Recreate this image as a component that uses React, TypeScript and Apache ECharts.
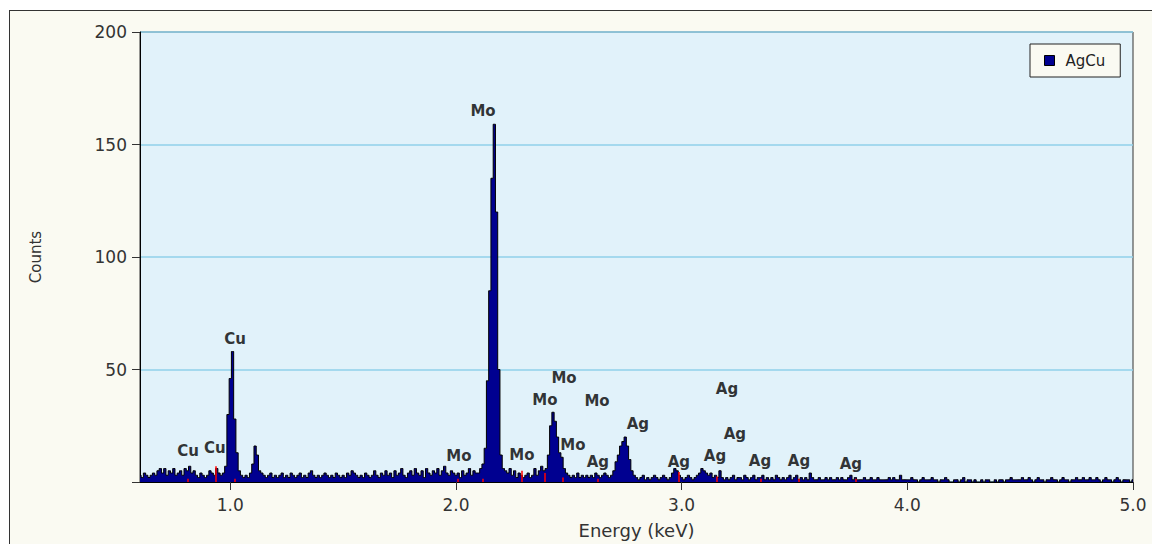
import React, { useEffect, useRef } from "react";
import * as echarts from "echarts";

// Spectrum channels: 10 eV each, starting at 0.60 keV
const START_KEV = 0.6;
const CHANNEL_KEV = 0.01;

const counts: number[] = [
  // 0.60
  3, 2, 4, 3, 2, 3, 4, 3, 5, 6,
  // 0.70
  4, 6, 3, 5, 4, 6, 3, 4, 5, 3,
  // 0.80
  6, 5, 7, 4, 5, 3, 2, 4, 3, 2,
  // 0.90
  3, 5, 4, 3, 6, 4, 3, 4, 7, 30,
  // 1.00
  46, 58, 28, 13, 5, 3, 2, 3, 2, 4,
  // 1.10
  8, 16, 12, 5, 4, 3, 2, 3, 4, 2,
  // 1.20
  3, 2, 3, 4, 2, 3, 2, 4, 3, 2,
  // 1.30
  3, 4, 2, 3, 2, 4, 5, 3, 2, 3,
  // 1.40
  2, 3, 4, 3, 2, 3, 2, 4, 3, 2,
  // 1.50
  3, 2, 4, 3, 5, 4, 3, 2, 3, 2,
  // 1.60
  4, 3, 2, 3, 5, 3, 2, 4, 3, 5,
  // 1.70
  3, 4, 2, 5, 3, 4, 6, 3, 2, 4,
  // 1.80
  5, 3, 6, 4, 3, 5, 2, 6, 4, 3,
  // 1.90
  5, 4, 6, 3, 5, 7, 4, 3, 5, 4,
  // 2.00
  3, 4, 2, 5, 3, 4, 6, 3, 5, 4,
  // 2.10
  4, 6, 8, 15, 45, 85, 135, 159, 120, 50,
  // 2.20
  12, 6, 5, 4, 6, 3, 5, 2, 4, 3,
  // 2.30
  2, 3, 4, 2, 3, 6, 3, 5, 7, 5,
  // 2.40
  6, 12, 25, 31, 27, 20, 13, 11, 6, 4,
  // 2.50
  3, 2, 3, 2, 4, 2, 3, 2, 3, 2,
  // 2.60
  3, 2, 4, 3, 2, 3, 4, 3, 2, 3,
  // 2.70
  5, 9, 12, 16, 18, 20, 16, 10, 5, 3,
  // 2.80
  2, 1, 2, 3, 1, 2, 1, 2, 3, 2,
  // 2.90
  1, 2, 3, 2, 1, 2, 4, 6, 5, 3,
  // 3.00
  2, 1, 2, 3, 2, 1, 2, 3, 4, 6,
  // 3.10
  5, 4, 3, 4, 2, 3, 2, 5, 2, 1,
  // 3.20
  2, 1, 2, 3, 1, 2, 2, 1, 3, 2,
  // 3.30
  1, 2, 3, 1, 2, 2, 3, 1, 2, 1,
  // 3.40
  2, 1, 3, 2, 1, 2, 1, 2, 3, 1,
  // 3.50
  2, 3, 1, 2, 1, 2, 1, 4, 2, 1,
  // 3.60
  1, 2, 1, 1, 2, 1, 2, 1, 1, 2,
  // 3.70
  1, 2, 1, 1, 2, 3, 1, 2, 1, 1,
  // 3.80
  1, 2, 1, 1, 2, 1, 1, 2, 1, 1,
  // 3.90
  1, 1, 2, 1, 2, 1, 1, 3, 1, 1,
  // 4.00
  1, 1, 2, 1, 1, 0, 1, 2, 1, 1,
  // 4.10
  1, 2, 1, 1, 0, 1, 1, 2, 1, 0,
  // 4.20
  0, 1, 1, 0, 1, 2, 0, 1, 1, 0,
  // 4.30
  1, 0, 0, 1, 0, 1, 1, 0, 0, 1,
  // 4.40
  0, 1, 1, 0, 1, 1, 2, 1, 1, 1,
  // 4.50
  1, 2, 1, 1, 2, 1, 0, 1, 2, 1,
  // 4.60
  1, 0, 1, 1, 2, 1, 1, 0, 1, 2,
  // 4.70
  1, 1, 0, 1, 1, 2, 1, 1, 2, 1,
  // 4.80
  1, 2, 1, 1, 2, 1, 0, 1, 2, 1,
  // 4.90
  1, 0, 1, 2, 1, 0, 1, 1, 1, 0,
  // 5.00
  1,
];

const xTickValues = [1, 2, 3, 4, 5];

// Element line labels (name, energy, label height in counts)
const peakLabelNames = [
  "Cu", "Cu", "Cu", "Mo", "Mo", "Mo", "Mo", "Mo", "Mo", "Mo",
  "Ag", "Ag", "Ag", "Ag", "Ag", "Ag", "Ag", "Ag", "Ag",
];
const peakLabelKeV = [
  0.813, 0.932, 1.021, 2.013, 2.12, 2.292, 2.394, 2.479, 2.625, 2.518,
  2.629, 2.806, 2.988, 3.148, 3.236, 3.201, 3.347, 3.52, 3.75,
];
const peakLabelCounts = [
  13.8, 15.1, 63.6, 11.6, 164.9, 12, 36.4, 46.2, 36, 16.4,
  8.9, 25.8, 8.9, 11.6, 21.3, 41.3, 9.3, 9.3, 8,
];

// Red element marker lines
const markerKeV = [0.81, 0.935, 1.02, 2.01, 2.12, 2.29, 2.395, 2.475, 2.63, 2.985, 3.155, 3.35, 3.52, 3.77];
const markerCounts = [1.5, 7, 1.5, 1.5, 1.5, 5, 4, 2, 1.5, 4.5, 2.5, 1.5, 1.5, 1.5];

const FONT = "DejaVu Sans";

export default function App() {
  const ref = useRef<HTMLDivElement>(null);

  useEffect(() => {
    if (!ref.current) return;
    const chart = echarts.init(ref.current, null, { renderer: "svg" });
    const spectrum = counts.map((c, i) => [
      Math.round((START_KEV + i * CHANNEL_KEV) * 100) / 100,
      c,
    ]);
    const labelData = peakLabelNames.map((n, i) => ({
      name: n,
      value: [peakLabelKeV[i], peakLabelCounts[i]],
    }));
    const markerData = markerKeV.map((e, i) => [
      { coord: [e, 0] },
      { coord: [e, markerCounts[i]] },
    ]);

    chart.setOption({
      animation: false,
      backgroundColor: "transparent",
      grid: {
        left: 140,
        top: 32,
        right: 19,
        bottom: 62,
        show: true,
        backgroundColor: "#e1f2fa",
        borderColor: "#333",
        borderWidth: 1,
      },
      legend: {
        data: ["AgCu"],
        left: 1030,
        top: 44,
        icon: "rect",
        itemWidth: 10,
        itemHeight: 10,
        padding: [9, 15, 9, 14],
        backgroundColor: "#fafaf2",
        borderColor: "#222",
        borderWidth: 1,
        borderRadius: 0,
        itemStyle: { color: "#000090", borderColor: "#000", borderWidth: 1 },
        textStyle: { fontFamily: FONT, fontSize: 15, color: "#222", padding: [0, 0, 0, 6] },
      },
      xAxis: {
        type: "value",
        min: 0.6,
        max: 5.0,
        axisLine: { show: true, lineStyle: { color: "#000", width: 1 } },
        axisTick: {
          show: true,
          length: 8,
          customValues: xTickValues,
          lineStyle: { color: "#333" },
        },
        axisLabel: {
          customValues: xTickValues,
          formatter: (v: number) => v.toFixed(1),
          margin: 14,
          fontFamily: FONT,
          fontSize: 17,
          color: "#333",
        },
        splitLine: { show: false },
        name: "Energy (keV)",
        nameLocation: "middle",
        nameGap: 39,
        nameTextStyle: { fontFamily: FONT, fontSize: 18, color: "#333" },
      },
      yAxis: {
        type: "value",
        min: 0,
        max: 200,
        interval: 50,
        axisLine: { show: true, lineStyle: { color: "#000", width: 1 } },
        axisTick: { show: true, length: 8, lineStyle: { color: "#333" } },
        axisLabel: {
          formatter: (v: number) => (v === 0 ? "" : String(v)),
          margin: 13,
          fontFamily: FONT,
          fontSize: 17,
          color: "#333",
        },
        splitLine: { show: true, lineStyle: { color: "#8fd0ea", width: 1.5 } },
        name: "Counts",
        nameLocation: "middle",
        nameGap: 97,
        nameRotate: 90,
        nameTextStyle: { fontFamily: FONT, fontSize: 15, color: "#333" },
      },
      series: [
        {
          name: "AgCu",
          type: "line",
          data: spectrum,
          step: "middle",
          symbol: "none",
          itemStyle: { color: "#000090" },
          lineStyle: { color: "#000", width: 1 },
          areaStyle: { color: "#000090", opacity: 1 },
          silent: true,
          markLine: {
            silent: true,
            symbol: ["none", "none"],
            label: { show: false },
            lineStyle: { color: "#ff0000", width: 1.5, type: "solid" },
            data: markerData,
          },
        },
        {
          name: "labels",
          type: "scatter",
          data: labelData,
          symbolSize: 1,
          itemStyle: { color: "rgba(0,0,0,0)" },
          silent: true,
          label: {
            show: true,
            position: "inside",
            formatter: "{b}",
            fontFamily: FONT,
            fontWeight: "bold",
            fontSize: 15,
            color: "#000",
          },
        },
      ],
    });
    return () => chart.dispose();
  }, []);

  return (
    <div
      style={{
        position: "fixed",
        left: 0,
        top: 0,
        width: 1152,
        height: 544,
        background: "#fff",
        overflow: "hidden",
      }}
    >
      <div
        style={{
          position: "absolute",
          left: 9,
          top: 10,
          width: 1200,
          height: 600,
          border: "1px solid #333",
          background: "#fafaf2",
        }}
      />
      <div ref={ref} style={{ position: "absolute", left: 0, top: 0, width: 1152, height: 544 }} />
    </div>
  );
}
